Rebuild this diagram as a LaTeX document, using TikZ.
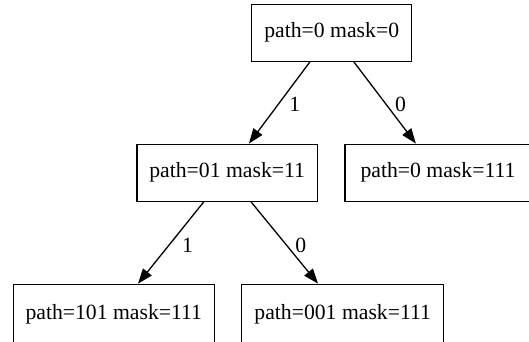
\documentclass[tikz,border=0pt]{standalone}
\usepackage{fontspec}
\setmainfont{Liberation Serif}
\usetikzlibrary{arrows.meta}
\begin{document}
\begin{tikzpicture}[x=1pt,y=1pt,
  state/.style={draw=black, line width=1.3pt, rectangle, inner sep=0pt,
    minimum height=57pt, font=\fontsize{21.7}{26}\selectfont},
  edge/.style={draw=black, line width=1.3pt,
    -{Triangle[length=15pt,width=11pt]}},
  lbl/.style={inner sep=0pt, font=\fontsize{21.7}{26}\selectfont}]
  \useasboundingbox (0,0) rectangle (529,341);
  % tree nodes (y measured upward from the bottom edge)
  \node[state, minimum width=160pt] (root) at (331.7,308.3) {path=0 mask=0};
  \node[state, minimum width=180.3pt] (n01) at (227.2,168.3) {path=01 mask=11};
  \node[state, minimum width=186pt] (n0) at (438,168.3) {path=0 mask=111};
  \node[state, minimum width=201pt, minimum height=59pt] (n101) at (113.8,27.2) {path=101 mask=111};
  \node[state, minimum width=202pt, minimum height=59pt] (n001) at (342.7,27.2) {path=001 mask=111};
  % branches
  \draw[edge] (root) -- node[lbl, pos=0.52, xshift=16.5] {1} (n01);
  \draw[edge] (root) -- node[lbl, pos=0.52, xshift=14.4] {0} (n0);
  \draw[edge] (n01) -- node[lbl, pos=0.53, xshift=18.5] {1} (n101);
  \draw[edge] (n01) -- node[lbl, pos=0.53, xshift=14.3] {0} (n001);
\end{tikzpicture}
\end{document}
